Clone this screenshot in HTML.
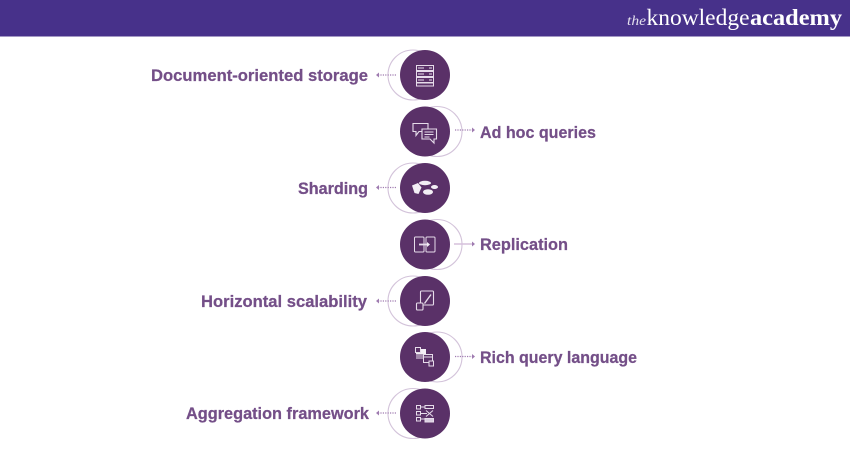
<!DOCTYPE html>
<html><head><meta charset="utf-8"><style>
html,body{margin:0;padding:0;background:#fff}
svg{display:block}
.t{font-family:"Liberation Sans",sans-serif;font-weight:700;font-size:17px;fill:#744f88;stroke:#744f88;stroke-width:.25}
.a{fill:none;stroke:#d3c3da;stroke-width:1.1}
.d{stroke:#9f7bb0;stroke-width:1.3;stroke-dasharray:1.2 1.2;fill:none}
.h{fill:#9f7bb0}
.c{fill:#5a3168}
.i{fill:none;stroke:#e6dcea;stroke-width:1}
.f{fill:#f3eef5}
</style></head><body>
<svg width="850" height="450" viewBox="0 0 850 450" xmlns="http://www.w3.org/2000/svg">
<rect width="850" height="450" fill="#fff"/>
<rect width="850" height="36.5" fill="#47318a"/>
<text x="627" y="25" font-family="'Liberation Serif',serif" font-style="italic" font-size="14" fill="#e4e0ee" textLength="19" lengthAdjust="spacingAndGlyphs">the</text>
<text x="646.500" y="25" font-family="'Liberation Serif',serif" font-size="23" fill="#fff" textLength="103" lengthAdjust="spacingAndGlyphs">knowledge</text>
<text x="750" y="25" font-family="'Liberation Serif',serif" font-weight="700" font-size="23" fill="#fff" textLength="92" lengthAdjust="spacingAndGlyphs">academy</text>

<!-- arcs -->
<circle class="a" cx="413" cy="75" r="25"/>
<circle class="a" cx="437" cy="131.500" r="25"/>
<circle class="a" cx="413" cy="188" r="25"/>
<circle class="a" cx="437" cy="244.500" r="25"/>
<circle class="a" cx="413" cy="301" r="25"/>
<circle class="a" cx="437" cy="357" r="25"/>
<circle class="a" cx="413" cy="413.500" r="25"/>

<!-- circles -->
<circle class="c" cx="425" cy="75" r="25"/>
<circle class="c" cx="425" cy="131.500" r="25"/>
<circle class="c" cx="425" cy="188" r="25"/>
<circle class="c" cx="425" cy="244.500" r="25"/>
<circle class="c" cx="425" cy="301" r="25"/>
<circle class="c" cx="425" cy="357" r="25"/>
<circle class="c" cx="425" cy="413.500" r="25"/>

<!-- connectors -->
<path class="d" d="M378 75H396"/><path class="h" d="M376 75l3-2.500v5z"/>
<path class="d" d="M455 130H473"/><path class="h" d="M475 130l-3-2.500v5z"/>
<path class="d" d="M378 187.500H396"/><path class="h" d="M376 187.500l3-2.500v5z"/>
<path d="M454 244H473" fill="none" stroke="#d5c0dc" stroke-width="1.500"/><path class="h" d="M475 244l-3-2.500v5z"/>
<path class="d" d="M378 301H396"/><path class="h" d="M376 301l3-2.500v5z"/>
<path class="d" d="M455 356.500H473"/><path class="h" d="M475 356.500l-3-2.500v5z"/>
<path class="d" d="M378 413H396"/><path class="h" d="M376 413l3-2.500v5z"/>

<!-- icon 1: server -->
<g class="i">
<rect x="416.500" y="65.500" width="17" height="5"/>
<rect x="416.500" y="71.500" width="17" height="5"/>
<rect x="416.500" y="77.500" width="17" height="5"/>
<rect x="416.500" y="83" width="17" height="3"/>
<path d="M418 68h6M418 74h6M418 80h6M429 68h3M429 74h3M429 80h3"/>
</g>
<!-- icon 2: chat -->
<g class="i" style="stroke-width:1.100">
<path d="M413 123.500h15v8h-9l-3 4v-4h-3z"/>
<path d="M422 129h14.500v10h-2.500v4l-4-4h-8z" fill="#5a3168"/>
<path d="M424.500 132h9M424.500 134.500h9M424.500 137h5"/>
</g>
<!-- icon 3: sharding -->
<g class="f">
<path d="M412 185.500l6-2.500 3.500 4.500-3 6.500-4-1z"/>
<ellipse cx="425" cy="183" rx="6" ry="2.200"/>
<ellipse cx="428" cy="192" rx="5" ry="2.800"/>
<ellipse cx="434.500" cy="187" rx="3.500" ry="2"/>
</g>
<!-- icon 4: replication -->
<g class="i">
<rect x="414.500" y="237" width="9.500" height="15" rx="1"/>
<rect x="426" y="237" width="9" height="15" rx="1"/>
<path d="M419 244.500h9" stroke-width="1.800"/>
<path class="f" style="stroke:none" d="M427 242l3 2.500-3 2.500z"/>
</g>
<!-- icon 5: scalability -->
<g class="i" style="stroke-width:1.100">
<rect x="420.500" y="291" width="13" height="14" rx="1"/>
<rect x="416.500" y="303" width="6.500" height="7" rx="1" fill="#5a3168"/>
<path d="M424.500 303.500l6.500-9" stroke-width="1.400"/>
</g>
<!-- icon 6: query -->
<g class="i">
<path class="f" style="stroke:none" d="M416 349h10v5.500h-10z"/>
<rect x="415.500" y="347.500" width="5" height="5" fill="#5a3168"/>
<path d="M416 356h8M416 358h8"/>
<rect x="423.500" y="354.500" width="9" height="8" fill="#5a3168"/>
<path d="M424 357h8"/>
<rect x="429" y="361" width="4.500" height="5" fill="#5a3168"/>
</g>
<!-- icon 7: aggregation -->
<g class="i">
<rect x="416.500" y="405.500" width="4" height="3.500"/>
<rect x="416.500" y="411.500" width="4" height="3.500"/>
<rect x="416.500" y="417.500" width="4" height="3.500"/>
<rect x="425" y="405.500" width="8.500" height="3"/>
<path d="M426 410.500l7 6M433 410.500l-7 6M421 413.500h6M421 407h4M421 419h4"/>
<rect x="425" y="418.500" width="8.500" height="3.500" fill="#d9cde0"/>
</g>

<!-- labels -->
<text class="t" x="151" y="81" textLength="217" lengthAdjust="spacingAndGlyphs">Document-oriented storage</text>
<text class="t" x="480" y="138" textLength="116" lengthAdjust="spacingAndGlyphs">Ad hoc queries</text>
<text class="t" x="298" y="194" textLength="70" lengthAdjust="spacingAndGlyphs">Sharding</text>
<text class="t" x="480" y="250" textLength="88" lengthAdjust="spacingAndGlyphs">Replication</text>
<text class="t" x="201" y="307" textLength="166" lengthAdjust="spacingAndGlyphs">Horizontal scalability</text>
<text class="t" x="480" y="363" textLength="157" lengthAdjust="spacingAndGlyphs">Rich query language</text>
<text class="t" x="186" y="419" textLength="183" lengthAdjust="spacingAndGlyphs">Aggregation framework</text>
</svg>
</body></html>
